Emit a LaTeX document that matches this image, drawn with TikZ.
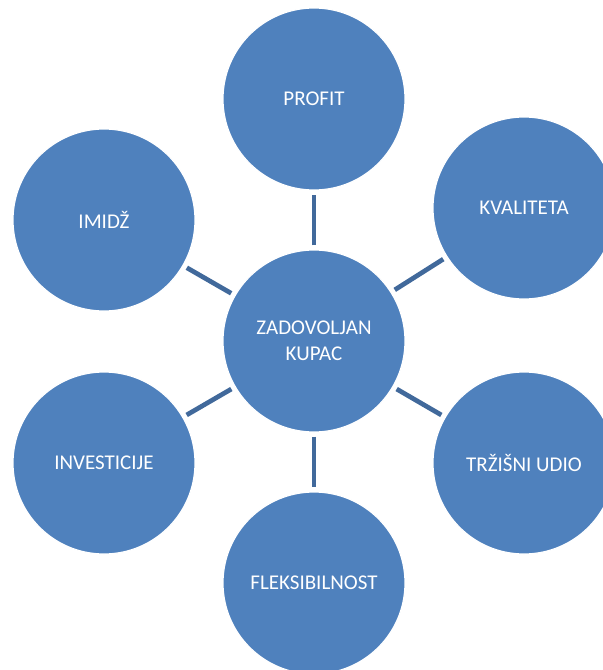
\documentclass[tikz,border=0pt]{standalone}
\usepackage{fontspec}
\setmainfont{Carlito}
\definecolor{bubfill}{HTML}{4F81BD}
\definecolor{connblue}{HTML}{41699B}
\begin{document}
\begin{tikzpicture}[x=1pt,y=-1pt,
  bub/.style={circle, fill=bubfill, draw=white, line width=1.2pt, minimum size=182pt,
    inner sep=0pt, text=white, font=\fontsize{21}{26}\selectfont, align=center},
  conn/.style={draw=connblue, line width=4.7pt, shorten <=4pt, shorten >=4pt}]
\useasboundingbox (0,0) rectangle (603,670);
\node[bub] (c) at (314,341) {ZADOVOLJAN\\KUPAC};
\node[bub] (profit) at (314,99) {PROFIT};
\node[bub] (kval) at (524,208) {KVALITETA};
\node[bub] (imidz) at (104,220) {IMIDŽ};
\node[bub] (inv) at (104,463) {INVESTICIJE};
\node[bub] (trz) at (524,463) {TRŽIŠNI UDIO};
\node[bub] (fleks) at (314,583) {FLEKSIBILNOST};
\foreach \n in {profit,kval,imidz,inv,trz,fleks}{
  \draw[conn] (c) -- (\n);
}
\end{tikzpicture}
\end{document}
